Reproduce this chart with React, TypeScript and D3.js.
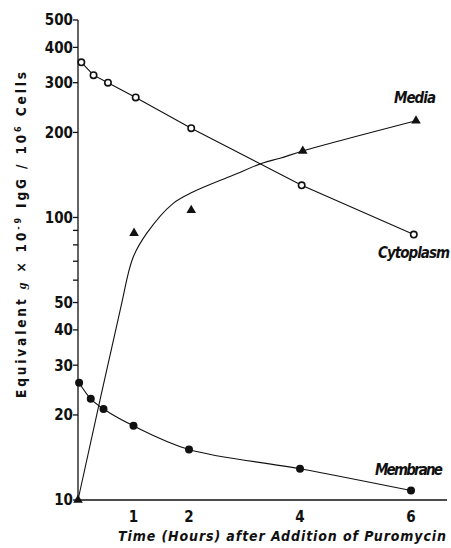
import * as d3 from 'd3'

// values
const cytoplasmTime = [0.06, 0.28, 0.54, 1.04, 2.04, 4.03, 6.05]
const cytoplasmValue = [354, 319, 300, 266, 207, 130, 87]

const membraneTime = [0.02, 0.23, 0.46, 1, 2, 4, 6]
const membraneValue = [26.0, 22.8, 21.0, 18.3, 15.1, 12.9, 10.8]

const mediaTime = [0, 1.01, 2.04, 4.05, 6.09]
const mediaValue = [10, 88, 106, 172, 220]

// hand-drawn fit through the media points
const mediaFitTime = [0, 0.76, 0.99, 1.24, 1.71, 2.07, 2.79, 3.33, 3.64, 4.05, 6.09]
const mediaFitValue = [10, 47, 72, 88, 112, 123, 141, 156, 162, 172, 220]

const yMajorTicks = [10, 20, 30, 40, 50, 100, 200, 300, 400, 500]
const yMinorTicks = [60, 70, 80, 90]
const xTicks = [1, 2, 4, 6]

const W = 451
const H = 548
const FONT = '"Liberation Sans Narrow", "DejaVu Sans Condensed", "DejaVu Sans", sans-serif'
const INK = '#111'

const x = d3.scaleLinear([0, 6], [78, 411])
const y = d3.scaleLog([10, 500], [500, 20])

type Pt = [number, number]
const zip = (t: number[], v: number[]): Pt[] => t.map((d, i) => [d, v[i]])

const smooth = d3.line<Pt>().x(d => x(d[0])).y(d => y(d[1])).curve(d3.curveCatmullRom.alpha(0.5))
const straight = d3.line<Pt>().x(d => x(d[0])).y(d => y(d[1]))

export default function App() {
  const cyto = zip(cytoplasmTime, cytoplasmValue)
  const memb = zip(membraneTime, membraneValue)
  const media = zip(mediaTime, mediaValue)
  const mediaFit = zip(mediaFitTime, mediaFitValue)
  const tri = d3.symbol(d3.symbolTriangle, 40)()

  return (
    <svg width={W} height={H} style={{ position: 'absolute', left: 0, top: 0, background: '#fff' }}
      fontFamily={FONT} fill={INK}>
      {/* axes */}
      <line x1={x(0)} x2={x(0)} y1={y(500)} y2={y(10)} stroke={INK} strokeWidth={1.3} />
      <line x1={x(0)} x2={447} y1={y(10)} y2={y(10)} stroke={INK} strokeWidth={1.3} />

      {yMajorTicks.map(t => (
        <g key={t}>
          <line x1={x(0) - 5} x2={x(0)} y1={y(t)} y2={y(t)} stroke={INK} strokeWidth={1.3} />
          <text x={x(0) - 5} y={y(t)} dy="0.36em" textAnchor="end" fontSize={15} fontWeight="bold">{t}</text>
        </g>
      ))}
      {yMinorTicks.map(t => (
        <line key={t} x1={x(0) - 5} x2={x(0)} y1={y(t)} y2={y(t)} stroke={INK} strokeWidth={1.3} />
      ))}
      {xTicks.map(t => (
        <text key={t} x={x(t)} y={522} textAnchor="middle" fontSize={15} fontWeight="bold">{t}</text>
      ))}

      {/* axis titles */}
      <text x={118} y={541} fontSize={14} fontWeight="bold" fontStyle="italic"
        textLength={328} lengthAdjust="spacing">
        Time (Hours) after Addition of Puromycin
      </text>
      <text transform="translate(26,398) rotate(-90)" fontSize={13.5} fontWeight="bold"
        textLength={326} lengthAdjust="spacing">
        Equivalent <tspan fontStyle="italic" fontFamily="serif">g</tspan> × 10<tspan dy={-5} fontSize={9}>-9</tspan><tspan dy={5}> IgG / 10</tspan><tspan dy={-5} fontSize={9}>6</tspan><tspan dy={5}> Cells</tspan>
      </text>

      {/* lines */}
      <path d={straight(cyto) ?? ''} fill="none" stroke={INK} strokeWidth={1.1} />
      <path d={smooth(memb) ?? ''} fill="none" stroke={INK} strokeWidth={1.1} />
      <path d={smooth(mediaFit) ?? ''} fill="none" stroke={INK} strokeWidth={1.1} />

      {/* markers */}
      {cyto.map((d, i) => (
        <circle key={i} cx={x(d[0])} cy={y(d[1])} r={3.2} fill="#fff" stroke={INK} strokeWidth={1.6} />
      ))}
      {memb.map((d, i) => (
        <circle key={i} cx={x(d[0])} cy={y(d[1])} r={4} fill={INK} />
      ))}
      {media.map((d, i) => (
        <path key={i} d={tri ?? ''} transform={`translate(${x(d[0])},${y(d[1])})`} fill={INK} />
      ))}

      {/* series labels */}
      <text x={394} y={103} fontSize={15} fontWeight="bold" fontStyle="italic" textLength={42} lengthAdjust="spacing">Media</text>
      <text x={378} y={258} fontSize={15} fontWeight="bold" fontStyle="italic" textLength={72} lengthAdjust="spacing">Cytoplasm</text>
      <text x={375} y={475} fontSize={15} fontWeight="bold" fontStyle="italic" textLength={68} lengthAdjust="spacing">Membrane</text>
    </svg>
  )
}
